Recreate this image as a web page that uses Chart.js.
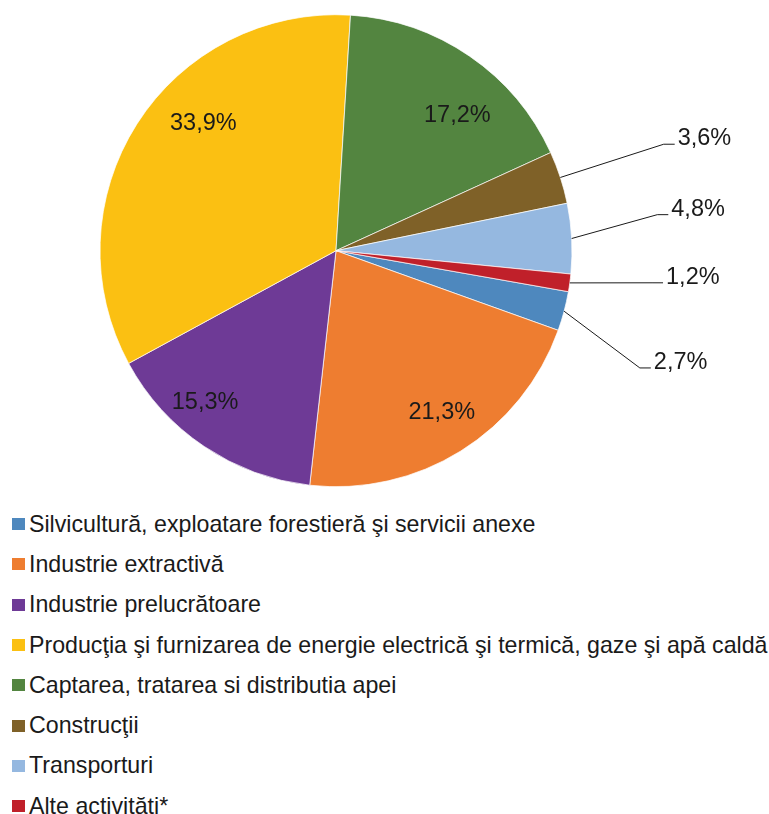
<!DOCTYPE html>
<html>
<head>
<meta charset="utf-8">
<script src="https://cdn.jsdelivr.net/npm/chart.js@4"></script>
<style>
  body { margin: 0; background: #fff; font-family: "Liberation Sans", Arial, sans-serif; }
  #wrap { position: relative; width: 769px; height: 814px; }
  #pie { position: absolute; left: 0; top: 0; }
  #legend { position: absolute; left: 12px; top: 504px; margin: 0; padding: 0; list-style: none; font-size: 23.2px; color: #1a1a1a; }
  #legend li { display: flex; align-items: center; height: 40.3px; white-space: nowrap; }
  #legend .box { width: 13px; height: 12px; margin-right: 4px; flex: none; }
</style>
</head>
<body>
<div id="wrap">
  <canvas id="pie" width="769" height="500"></canvas>
  <ul id="legend"></ul>
</div>
<script>
const categories = [
  'Silvicultură, exploatare forestieră şi servicii anexe',
  'Industrie extractivă',
  'Industrie prelucrătoare',
  'Producţia şi furnizarea de energie electrică şi termică, gaze şi apă caldă',
  'Captarea, tratarea si distributia apei',
  'Construcţii',
  'Transporturi',
  'Alte activităţi*'
];
const shares = [2.7, 21.3, 15.3, 33.9, 17.2, 3.6, 4.8, 1.2];
const sliceColors = ['#4e88be', '#ee7d30', '#6e3a96', '#fbc012', '#538540', '#7f6128', '#95b8e0', '#c0202a'];

// label placement: inside -> [angle shift deg, radius fraction]
const insideLabels = { 1: [-1.2, 0.82], 2: [6.8, 0.85], 3: [11.4, 0.78], 4: [7.4, 0.77] };
// callouts -> [elbow angle from top deg, radius fraction]
const calloutLabels = { 0: [111.1, 1.38], 5: [72, 1.46], 6: [83.6, 1.37], 7: [95.8, 1.346] };

const fmt = v => v.toFixed(1).replace('.', ',') + '%';

const sliceLabels = {
  id: 'sliceLabels',
  afterDatasetsDraw(chart) {
    const ctx = chart.ctx;
    const meta = chart.getDatasetMeta(0);
    ctx.save();
    ctx.font = '23.5px "Liberation Sans", Arial, sans-serif';
    ctx.fillStyle = '#1a1a1a';
    ctx.strokeStyle = '#1a1a1a';
    ctx.lineWidth = 1;
    meta.data.forEach((arc, i) => {
      const { x, y, startAngle, endAngle, outerRadius } =
        arc.getProps(['x', 'y', 'startAngle', 'endAngle', 'outerRadius'], true);
      const mid = (startAngle + endAngle) / 2;
      const text = fmt(shares[i]);
      if (insideLabels[i]) {
        const [shift, frac] = insideLabels[i];
        const a = mid + shift * Math.PI / 180;
        ctx.textAlign = 'center';
        ctx.textBaseline = 'middle';
        ctx.fillText(text, x + Math.cos(a) * outerRadius * frac, y + Math.sin(a) * outerRadius * frac);
      } else {
        const [deg, frac] = calloutLabels[i];
        const a = (deg - 90) * Math.PI / 180;
        const sx = x + Math.cos(mid) * outerRadius, sy = y + Math.sin(mid) * outerRadius;
        const ex = x + Math.cos(a) * outerRadius * frac, ey = y + Math.sin(a) * outerRadius * frac;
        ctx.beginPath();
        ctx.moveTo(sx, sy);
        ctx.lineTo(ex, ey);
        ctx.lineTo(ex + 11, ey);
        ctx.stroke();
        ctx.textAlign = 'left';
        ctx.textBaseline = 'alphabetic';
        ctx.fillText(text, ex + 14, ey + 1);
      }
    });
    ctx.restore();
  }
};

const chart = new Chart('pie', {
  type: 'pie',
  data: {
    labels: categories,
    datasets: [{
      data: shares,
      backgroundColor: sliceColors,
      borderColor: 'rgba(255,255,255,0.7)',
      borderWidth: 1,
      hoverOffset: 0
    }]
  },
  options: {
    responsive: false,
    animation: false,
    rotation: 100,
    radius: 236,
    layout: { padding: { left: 100, right: 197, top: 14.7, bottom: 13.3 } },
    plugins: {
      legend: { display: false },
      tooltip: { enabled: false }
    }
  },
  plugins: [sliceLabels]
});

// legend list under the pie
const legendEl = document.getElementById('legend');
categories.forEach((name, i) => {
  const li = document.createElement('li');
  const box = document.createElement('span');
  box.className = 'box';
  box.style.background = sliceColors[i];
  li.appendChild(box);
  li.appendChild(document.createTextNode(name));
  legendEl.appendChild(li);
});
</script>
</body>
</html>
